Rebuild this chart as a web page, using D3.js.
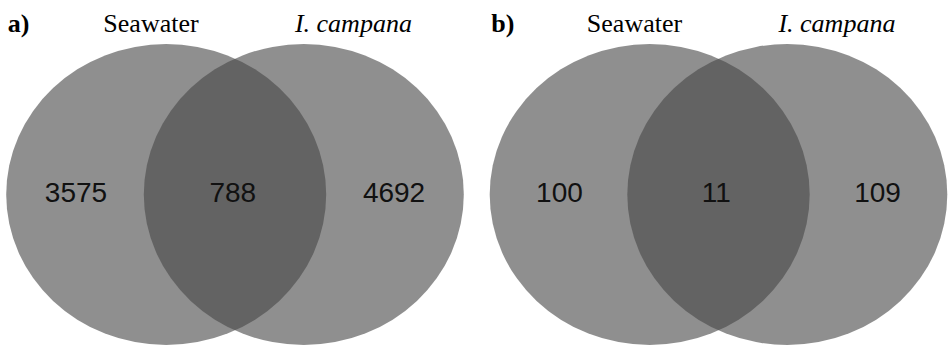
<!DOCTYPE html>
<html>
<head>
<meta charset="utf-8">
<script src="https://cdn.jsdelivr.net/npm/d3@7"></script>
<style>
  html, body { margin: 0; padding: 0; background: #ffffff; }
  svg { display: block; }
</style>
</head>
<body>
<svg id="chart" width="949" height="349"></svg>
<script>
// ---- data ----
const panels = ["a)", "b)"];
const setNames = ["Seawater", "I. campana"];
const onlyA = [3575, 100];
const both = [788, 11];
const onlyB = [4692, 109];

// ---- layout ----
const W = 949, H = 349;
const svg = d3.select("#chart");

// panel centers (middle of each Venn pair)
const panelX = d3.scaleOrdinal().domain(panels).range([235, 718.5]);
// horizontal offsets in a unit space around each panel center
const ux = d3.scaleLinear().domain([-1, 1]).range([-160, 160]);
const cy = 194.5, rx = 160, ry = 150.5;
const circleOffset = 0.43;   // unit distance of each circle center from panel center

const rows = panels.map((p, i) => ({
  panel: p,
  counts: [onlyA[i], both[i], onlyB[i]]
}));

const g = svg.selectAll("g.panel")
  .data(rows)
  .join("g")
  .attr("class", "panel")
  .attr("transform", d => `translate(${panelX(d.panel)},0)`);

// ellipses (semi-transparent so the overlap is darker)
g.selectAll("ellipse")
  .data([-circleOffset, circleOffset])
  .join("ellipse")
  .attr("cx", d => ux(d))
  .attr("cy", cy)
  .attr("rx", rx)
  .attr("ry", ry)
  .attr("fill", "rgb(70,70,70)")
  .attr("fill-opacity", 0.607);

// panel letter
g.append("text")
  .attr("x", ux(-1.42))
  .attr("y", 32)
  .attr("font-family", "Liberation Serif, Times New Roman, serif")
  .attr("font-weight", "bold")
  .attr("font-size", 26)
  .attr("fill", "#000")
  .text(d => d.panel);

// set names
g.selectAll("text.setname")
  .data(setNames.map((s, i) => ({ name: s, pos: i === 0 ? -0.525 : 0.74, italic: i === 1 })))
  .join("text")
  .attr("class", "setname")
  .attr("x", d => ux(d.pos))
  .attr("y", 32)
  .attr("text-anchor", "middle")
  .attr("font-family", "Liberation Serif, Times New Roman, serif")
  .attr("font-style", d => d.italic ? "italic" : "normal")
  .attr("font-size", 26)
  .attr("fill", "#000")
  .text(d => d.name);

// counts
const countPos = [-0.994, -0.014, 0.994];
g.selectAll("text.count")
  .data(d => d.counts.map((c, j) => ({ c, pos: countPos[j] })))
  .join("text")
  .attr("class", "count")
  .attr("x", d => ux(d.pos))
  .attr("y", 202)
  .attr("text-anchor", "middle")
  .attr("font-family", "Liberation Sans, Arial, Helvetica, sans-serif")
  .attr("font-size", 28)
  .attr("fill", "#111")
  .text(d => d.c);
</script>
</body>
</html>
